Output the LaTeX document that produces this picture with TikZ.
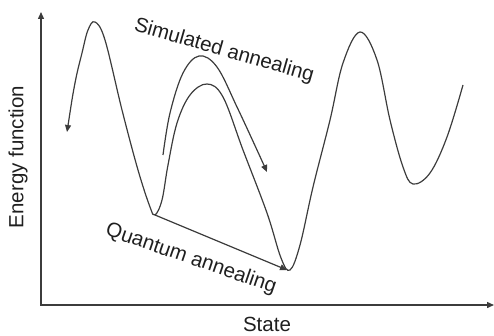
\documentclass[tikz,border=0pt]{standalone}
\usepackage{fontspec}
\setmainfont{Liberation Sans}
\usetikzlibrary{arrows.meta}
\definecolor{linegray}{HTML}{3C3C3C}
\begin{document}
\begin{tikzpicture}[
  x=1pt, y=-1pt,
  font=\fontsize{20.5}{24}\selectfont,
  axis/.style={draw=linegray, line width=1.4pt},
  curve/.style={draw=linegray, line width=1.2pt},
  lbl/.style={text=black!88, inner sep=0pt},
  >={Triangle[length=7pt,width=6pt]}]
\useasboundingbox (0,0) rectangle (494,336);
\coordinate (o) at (41,305);
\coordinate (ytop) at (41,12);
\coordinate (xend) at (494,305);
\draw[axis, <->] (ytop) -- (o) -- (xend);
% energy landscape
\coordinate (m1) at (155,215);
\coordinate (m2) at (287,270);
\draw[curve, <-] plot[smooth, tension=0.6] coordinates {(67,132) (75,83) (82,53) (88,30) (95,22) (105,40) (122,110) (138,170) (150,207) (155,215) (162,200) (168,165) (177,123) (190,95) (207,84) (223,97) (243,150) (267,213) (281,258) (290,270) (300,245) (313,187) (330,120) (343,63) (360,32) (377,60) (390,120) (403,167) (413,184) (430,173) (447,137) (463,85)};
\draw[curve, ->] plot[smooth, tension=0.6] coordinates {(163,155) (170,113) (183,73) (199,56) (217,67) (237,107) (257,150) (267,172)};
\draw[curve, ->] (m1) -- (m2);
\node[lbl, rotate=-16] (sa) at (224,51) {Simulated annealing};
\node[lbl, rotate=-19] (qa) at (191,259) {Quantum annealing};
\node[lbl, rotate=90] (ef) at (18,157) {Energy function};
\node[lbl] (st) at (267,324) {State};
\end{tikzpicture}
\end{document}
